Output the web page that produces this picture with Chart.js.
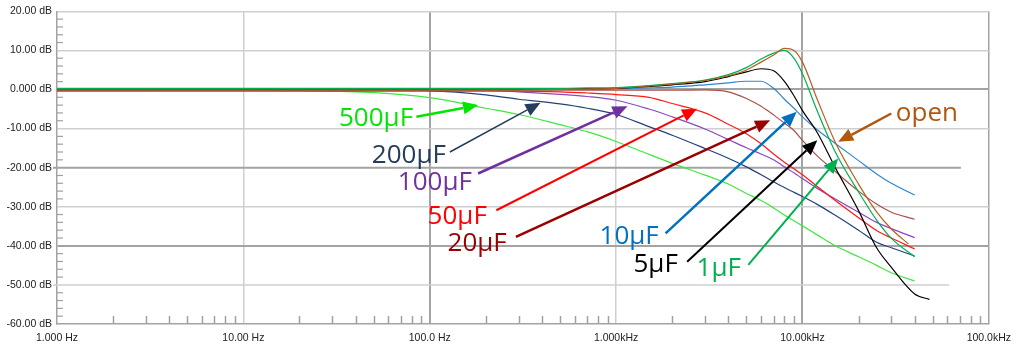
<!DOCTYPE html>
<html>
<head>
<meta charset="utf-8">
<script src="https://cdn.jsdelivr.net/npm/chart.js@4.4.0/dist/chart.umd.min.js"></script>
<style>
  html, body { margin: 0; padding: 0; background: #fff; }
  canvas { display: block; }
</style>
</head>
<body>
<canvas id="bode" width="1019" height="347"></canvas>
<script>
// Frequency response, gain in dB for each coupling capacitor
const FREQ = [1, 10, 20, 50, 100, 200, 300, 500, 700, 1000, 1500, 2000, 3000, 4000, 5000,
  6000, 7000, 8000, 9000, 10000, 12000, 15000, 20000, 25000, 30000, 37000, 40000, 48000];

const OPEN = [-0.1, -0.1, -0.1, -0.1, -0.1, -0.1, -0.1, 0.0, 0.1, 0.3, 0.9, 1.4, 2.3, 3.5, 5.0,
  7.0, 8.8, 10.5, 10.0, 7.0, -2.5, -13.5, -24.2, -31.3, -35.7, -39.5, null, null];
const C1 = [0.3, 0.3, 0.3, 0.3, 0.3, 0.3, 0.3, 0.3, 0.4, 0.5, 1.0, 1.5, 2.4, 3.8, 5.6,
  7.8, 9.3, 10.0, 8.0, 4.0, -5.5, -16.0, -26.2, -33.4, -38.1, null, -42.8, null];
const C5 = [0.1, 0.1, 0.1, 0.1, 0.1, 0.1, 0.1, 0.1, 0.2, 0.3, 0.8, 1.2, 2.0, 3.3, 4.5,
  5.3, 4.8, 2.1, -1.6, -5.4, -11.0, -20.0, -31.0, -40.5, -45.5, null, -52.3, -53.7];
const C10 = [0.1, 0.1, 0.1, 0.1, 0.1, 0.1, 0.1, 0.1, 0.1, 0.2, 0.4, 0.6, 1.2, 1.7, 2.1,
  2.1, 0.3, -2.5, -4.8, -7.0, -10.3, -13.8, -18.2, -21.6, -24.0, null, -27.0, null];
const C20 = [-0.2, -0.2, -0.2, -0.2, -0.2, -0.2, -0.2, -0.2, -0.2, -0.2, -0.2, -0.2, -0.1, -0.6, -2.3,
  -4.3, -6.5, -8.6, -10.5, -13.0, -17.0, -21.0, -26.0, -29.3, -31.4, null, -33.2, null];
const C50 = [-0.4, -0.4, -0.4, -0.4, -0.4, -0.4, -0.4, -0.6, -0.9, -1.3, -2.0, -3.6, -6.0, -8.9, -11.3,
  -13.9, -16.5, -18.6, -20.3, -21.8, -24.8, -28.4, -32.8, -36.1, -38.0, null, -40.8, null];
const C100 = [-0.1, -0.1, -0.1, -0.1, -0.1, -0.2, -0.6, -1.25, -1.8, -2.75, -5.0, -7.0, -10.1, -12.8, -14.9,
  -16.5, -18.0, -19.8, -21.3, -22.8, -25.3, -28.0, -31.4, -34.0, -35.6, null, -37.9, null];
const C200 = [-0.1, -0.1, -0.1, -0.1, -0.3, -1.4, -2.5, -3.7, -4.8, -6.4, -9.5, -11.7, -15.1, -17.6, -19.8,
  -21.8, -23.6, -25.1, -26.3, -27.4, -29.4, -32.2, -36.0, -39.1, -40.5, null, -42.6, null];
const C500 = [-0.1, -0.2, -0.3, -0.8, -2.1, -4.8, -6.4, -9.0, -10.8, -13.3, -16.6, -18.9, -21.9, -24.2, -26.6,
  -28.4, -30.3, -32.1, -33.6, -34.9, -37.2, -40.0, -42.8, -45.0, -46.9, null, -49.0, null];

const SERIES = [OPEN, C1, C5, C10, C20, C50, C100, C200, C500];
const SERIES_NAMES = ['open', '1µF', '5µF', '10µF', '20µF', '50µF', '100µF', '200µF', '500µF'];
const SERIES_COLORS = ['#b45f1e', '#00b050', '#000000', '#2f86d4', '#a65048', '#ff1a1a', '#8a48c0', '#23427a', '#3ee83e'];

const X_TICKS = [1, 10, 100, 1000, 10000, 100000];
const X_LABELS = ['1.000 Hz', '10.00 Hz', '100.0 Hz', '1.000kHz', '10.00kHz', '100.0kHz'];
const Y_TICKS = [20, 10, 0, -10, -20, -30, -40, -50, -60];
const Y_LABELS = ['20.00 dB', '10.00 dB', '0.000 dB', '-10.00 dB', '-20.00 dB', '-30.00 dB', '-40.00 dB', '-50.00 dB', '-60.00 dB'];

// callouts: label anchor, arrow tail and arrow tip, all as [Hz, dB]
const NOTE_TEXT = ['500µF', '200µF', '100µF', '50µF', '20µF', '10µF', '5µF', '1µF', 'open'];
const NOTE_COLOR = ['#00e600', '#233d5c', '#7030a0', '#ff0000', '#990000', '#0070c0', '#000000', '#00b050', '#b0580f'];
const NOTE_AT = [[51.5, -9.4], [77.3, -18.85], [106.5, -25.75], [140.4, -34.4], [179.6, -41.3],
  [1175, -39.55], [1630, -46.7], [3554, -47.7], [46530, -8.0]];
const NOTE_FROM = [[84.8, -7.0], [128.3, -16.0], [181.8, -21.5], [227.8, -30.9], [290.1, -37.7],
  [1843, -36.8], [2406, -44.1], [5122, -44.9], [29960, -6.15]];
const NOTE_TO = [[181.8, -4.0], [393, -3.4], [1151, -4.3], [2721, -4.9], [6706, -7.9],
  [9312, -5.7], [12015, -13.0], [15553, -17.65], [15553, -13.4]];
const NOTE_WIDTH = [2.5, 1.5, 2.5, 2, 2.5, 2.5, 2, 2, 2.5];

const LIGHT = '#cfcfcf';
const DARK = '#a3a3a3';

function drawArrow(ctx, x1, y1, x2, y2, color, w) {
  const a = Math.atan2(y2 - y1, x2 - x1);
  const len = 15, half = 6.5;
  const bx = x2 - len * Math.cos(a), by = y2 - len * Math.sin(a);
  ctx.strokeStyle = color;
  ctx.lineWidth = w;
  ctx.beginPath();
  ctx.moveTo(x1, y1);
  ctx.lineTo(bx, by);
  ctx.stroke();
  ctx.fillStyle = color;
  ctx.beginPath();
  ctx.moveTo(x2, y2);
  ctx.lineTo(bx + half * Math.sin(a), by - half * Math.cos(a));
  ctx.lineTo(bx - half * Math.sin(a), by + half * Math.cos(a));
  ctx.closePath();
  ctx.fill();
}

const overlay = {
  id: 'overlay',
  beforeDatasetsDraw(chart) {
    const { ctx, chartArea, scales: { x, y } } = chart;
    ctx.save();
    // the -20 and -50 dB lines stop short of the right edge
    [[-20, 70800, DARK, 2], [-50, 61100, LIGHT, 1.5]].forEach(([db, fEnd, col, w]) => {
      const py = y.getPixelForValue(db);
      ctx.strokeStyle = col;
      ctx.lineWidth = w;
      ctx.beginPath();
      ctx.moveTo(chartArea.left - 4, py);
      ctx.lineTo(x.getPixelForValue(fEnd), py);
      ctx.stroke();
    });
    // minor ticks inside the plot
    ctx.strokeStyle = '#a0a0a0';
    ctx.lineWidth = 1.5;
    for (let d = 1; d < 100000; d *= 10) {
      for (let m = 2; m <= 9; m++) {
        const px = Math.round(x.getPixelForValue(m * d)) + 0.5;
        ctx.beginPath();
        ctx.moveTo(px, chartArea.bottom - 8);
        ctx.lineTo(px, chartArea.bottom);
        ctx.stroke();
      }
    }
    ctx.lineWidth = 1.2;
    for (let v = -58; v < 20; v += 2) {
      if (v % 10 === 0) continue;
      const py = y.getPixelForValue(v);
      ctx.beginPath();
      ctx.moveTo(chartArea.left, py);
      ctx.lineTo(chartArea.left + 6, py);
      ctx.stroke();
    }
    ctx.restore();
  },
  afterDatasetsDraw(chart) {
    const { ctx, scales: { x, y } } = chart;
    ctx.save();
    ctx.font = '26px "Open Sans"';
    ctx.textAlign = 'center';
    ctx.textBaseline = 'alphabetic';
    NOTE_TEXT.forEach((t, i) => {
      const c = NOTE_COLOR[i];
      drawArrow(ctx,
        x.getPixelForValue(NOTE_FROM[i][0]), y.getPixelForValue(NOTE_FROM[i][1]),
        x.getPixelForValue(NOTE_TO[i][0]), y.getPixelForValue(NOTE_TO[i][1]),
        c, NOTE_WIDTH[i]);
      ctx.fillStyle = c;
      ctx.fillText(t, x.getPixelForValue(NOTE_AT[i][0]), y.getPixelForValue(NOTE_AT[i][1]));
    });
    ctx.restore();
  }
};

const datasets = SERIES.map((vals, i) => ({
  label: SERIES_NAMES[i],
  data: FREQ.map((f, k) => ({ x: f, y: vals[k] })),
  borderColor: SERIES_COLORS[i],
  borderWidth: 1.2,
  pointRadius: 0,
  fill: false,
  spanGaps: true,
  cubicInterpolationMode: 'monotone'
}));

new Chart(document.getElementById('bode'), {
  type: 'line',
  data: { datasets },
  options: {
    responsive: false,
    devicePixelRatio: 1,
    animation: false,
    layout: { padding: { left: 0, right: 26, top: 11, bottom: 0 } },
    plugins: { legend: { display: false }, tooltip: { enabled: false } },
    scales: {
      x: {
        type: 'logarithmic',
        min: 1,
        max: 100000,
        afterBuildTicks: s => { s.ticks = X_TICKS.map(v => ({ value: v })); },
        afterFit: s => { s.height = 23; },
        ticks: {
          autoSkip: false,
          maxRotation: 0,
          padding: 8,
          color: '#222',
          font: { family: '"Liberation Sans", Arial', size: 10.5 },
          callback: v => X_LABELS[X_TICKS.indexOf(v)]
        },
        grid: {
          drawTicks: false,
          color: c => {
            const v = c.tick && c.tick.value;
            if (v === 1) return 'rgba(0,0,0,0)';
            return (v === 100 || v === 10000 || v === 100000) ? DARK : LIGHT;
          },
          lineWidth: c => {
            const v = c.tick && c.tick.value;
            return (v === 100 || v === 10000) ? 2 : 1.5;
          }
        },
        border: { color: DARK, width: 1.5 }
      },
      y: {
        min: -60,
        max: 20,
        afterFit: s => { s.width = 57; },
        ticks: {
          stepSize: 10,
          padding: 5,
          color: '#222',
          font: { family: '"Liberation Sans", Arial', size: 10.5 },
          callback: v => Y_LABELS[Y_TICKS.indexOf(v)]
        },
        grid: {
          drawTicks: false,
          color: c => {
            const v = c.tick && c.tick.value;
            if (v === -60 || v === -20 || v === -50) return 'rgba(0,0,0,0)';
            return (v === 0 || v === -40) ? DARK : LIGHT;
          },
          lineWidth: c => {
            const v = c.tick && c.tick.value;
            return (v === 0 || v === -40) ? 2 : 1.5;
          }
        },
        border: { color: DARK, width: 1.5 }
      }
    }
  },
  plugins: [overlay]
});
</script>
</body>
</html>
